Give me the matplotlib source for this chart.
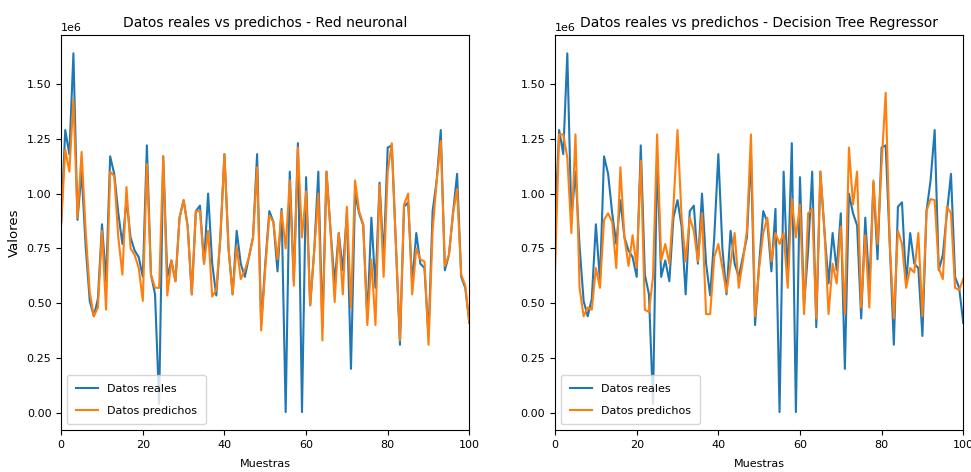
import matplotlib
matplotlib.use("Agg")
import matplotlib.pyplot as plt
import numpy as np

# valores reales (en millones), comunes a ambos modelos
reales = [0.87, 1.29, 1.18, 1.64, 0.88, 1.10, 0.76, 0.51, 0.44, 0.52,
          0.86, 0.60, 1.17, 1.09, 0.91, 0.77, 0.97, 0.80, 0.74, 0.71,
          0.62, 1.22, 0.63, 0.54, 0.04, 1.17, 0.62, 0.695, 0.60, 0.89,
          0.97, 0.85, 0.54, 0.92, 0.945, 0.68, 1.00, 0.68, 0.535, 0.80,
          1.18, 0.75, 0.54, 0.83, 0.68, 0.62, 0.71, 0.80, 1.18, 0.40,
          0.68, 0.92, 0.87, 0.645, 0.93, 0.003, 1.10, 0.60, 1.23, 0.003,
          1.075, 0.49, 0.74, 1.10, 0.39, 1.10, 0.83, 0.59, 0.82, 0.65,
          0.91, 0.20, 1.00, 0.91, 0.855, 0.43, 0.89, 0.57, 1.05, 0.70,
          1.21, 1.22, 0.77, 0.31, 0.94, 0.96, 0.59, 0.82, 0.68, 0.66,
          0.35, 0.92, 1.06, 1.29, 0.65, 0.72, 0.91, 1.09, 0.62, 0.57,
          0.41]

# predicciones de la red neuronal
pred_red = [0.86, 1.20, 1.10, 1.43, 0.89, 1.19, 0.83, 0.55, 0.44, 0.48,
            0.83, 0.47, 1.10, 1.08, 0.80, 0.63, 1.03, 0.75, 0.72, 0.66,
            0.51, 1.135, 0.63, 0.57, 0.57, 1.17, 0.535, 0.695, 0.60, 0.89,
            0.97, 0.85, 0.54, 0.92, 0.92, 0.68, 0.83, 0.53, 0.56, 0.80,
            1.18, 0.75, 0.54, 0.76, 0.61, 0.65, 0.71, 0.80, 1.12, 0.375,
            0.66, 0.90, 0.87, 0.70, 0.92, 0.75, 1.06, 0.58, 1.21, 0.80,
            1.01, 0.49, 0.74, 1.00, 0.33, 1.10, 0.83, 0.505, 0.82, 0.54,
            0.94, 0.48, 1.06, 0.92, 0.86, 0.40, 0.70, 0.40, 1.04, 0.62,
            1.10, 1.23, 0.77, 0.33, 0.95, 1.00, 0.54, 0.75, 0.70, 0.69,
            0.31, 0.83, 1.06, 1.24, 0.67, 0.72, 0.91, 1.02, 0.63, 0.58,
            0.41]

# predicciones del arbol de decision
pred_arbol = [0.65, 1.27, 1.27, 1.165, 0.82, 1.27, 0.57, 0.44, 0.48, 0.47,
              0.66, 0.57, 0.88, 0.91, 0.87, 0.66, 1.12, 0.80, 0.67, 0.81,
              0.66, 1.15, 0.47, 0.46, 0.62, 1.27, 0.695, 0.77, 0.68, 0.94,
              1.29, 0.89, 0.69, 0.89, 0.83, 0.69, 0.91, 0.45, 0.45, 0.71,
              0.77, 0.66, 0.55, 0.68, 0.82, 0.57, 0.69, 0.83, 1.27, 0.44,
              0.66, 0.82, 0.89, 0.69, 0.82, 0.77, 0.82, 0.57, 0.975, 0.80,
              0.95, 0.45, 0.91, 0.93, 0.43, 1.10, 0.83, 0.45, 0.68, 0.59,
              0.85, 0.45, 1.21, 0.95, 1.10, 0.48, 0.81, 0.48, 1.06, 0.77,
              1.135, 1.46, 0.77, 0.43, 0.83, 0.77, 0.57, 0.66, 0.64, 0.82,
              0.44, 0.92, 0.975, 0.97, 0.66, 0.61, 0.94, 0.91, 0.57, 0.56,
              0.61]

# el texto del original es estrecho, se achica para que ocupe el mismo ancho
plt.rcParams['font.size'] = 8
plt.rcParams['axes.titlesize'] = 10
plt.rcParams['axes.labelsize'] = 8

muestras = np.arange(len(reales))
reales = np.array(reales) * 1e6
pred_red = np.array(pred_red) * 1e6
pred_arbol = np.array(pred_arbol) * 1e6

fig, axes = plt.subplots(1, 2, figsize=(9.71, 4.72), dpi=100)
fig.subplots_adjust(left=0.063, right=0.992, top=0.925, bottom=0.089, wspace=0.21)

modelos = ["Red neuronal", "Decision Tree Regressor"]
predicciones = [pred_red, pred_arbol]

for i, ax in enumerate(axes):
    ax.plot(muestras, reales, label="Datos reales")
    ax.plot(muestras, predicciones[i], label="Datos predichos")
    # y fijo para que el titulo no suba por encima del 1e6
    ax.set_title("Datos reales vs predichos - " + modelos[i], y=1.0, pad=6)
    ax.set_xlabel("Muestras", labelpad=7)
    ax.set_xlim(0, 100)
    ax.legend(loc="lower left", labelspacing=1.05, borderpad=0.8)

axes[0].set_ylabel("Valores", fontsize=9.5)

plt.savefig("out.png", dpi=100)
